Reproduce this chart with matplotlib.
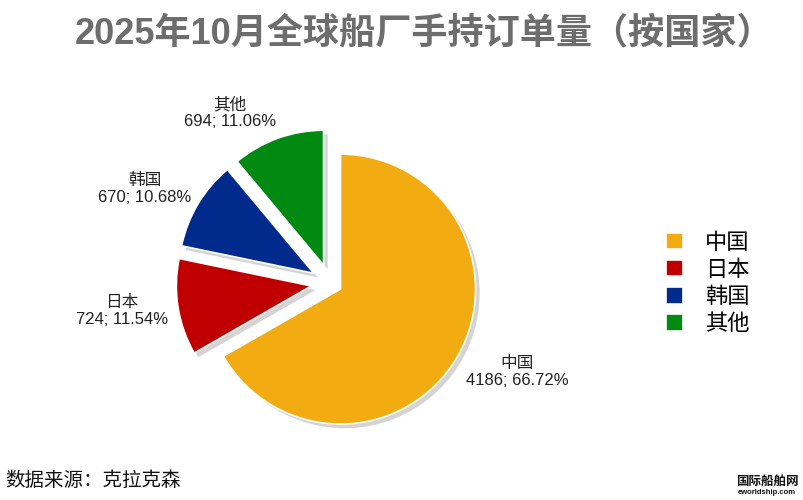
import matplotlib
matplotlib.use("Agg")
import matplotlib.pyplot as plt

# ---- data ----
categories = ["中国", "日本", "韩国", "其他"]
values = [4186, 724, 670, 694]
colors = ["#F2AB10", "#C00000", "#002A8C", "#008A12"]
title = "2025年10月全球船厂手持订单量（按国家）"
source = "数据来源：克拉克森"

# ---- layout ----
explode = [0.09, 0.14, 0.14, 0.14]
label_pos = [(1.385, -0.659), (-1.541, -0.207), (-1.370, 0.696), (-0.741, 1.259)]

W, H = 804, 500
cx, cy, R = 330, 283, 135  # pie centre / radius in pixels

fam = ["Liberation Sans", "Noto Sans CJK SC", "DejaVu Sans"]
plt.rcParams["font.family"] = fam

fig = plt.figure(figsize=(W / 100, H / 100), dpi=100)
ax = fig.add_axes([0, 0, 1, 1])

total = sum(values)
wedges, _ = ax.pie(
    values, colors=colors, explode=explode, startangle=90, counterclock=False,
    radius=1.0,
    wedgeprops=dict(edgecolor="white", linewidth=1.2),
    shadow={"ox": 0.022, "oy": -0.022, "facecolor": "#d4d4d4",
            "edgecolor": "none", "alpha": 1.0},
)
ax.set_aspect("equal")
ax.set_xlim(-cx / R, (W - cx) / R)
ax.set_ylim(-(H - cy) / R, cy / R)
ax.axis("off")

for name, v, (x, y) in zip(categories, values, label_pos):
    ax.text(x, y, f"{name}\n{v}; {100 * v / total:.2f}%", ha="center", va="center",
            fontsize=12, color="#222222", linespacing=1.15)

fig.text(0.527, 1 - 34 / H, title, ha="center", va="center", fontsize=26,
         fontweight="bold", color="#6d6d6d")

leg = fig.legend(wedges, categories, loc="center left",
                 bbox_to_anchor=(646 / W, 1 - 284 / H), frameon=False,
                 fontsize=16, handlelength=0.75, handleheight=0.75,
                 handletextpad=1.0, labelspacing=0.28)

fig.text(5 / W, 1 - 481 / H, source, ha="left", va="center", fontsize=14,
         style="italic", color="#111111")
fig.text(767 / W, 1 - 482 / H, "国际船舶网", ha="center", va="center", fontsize=9,
         fontweight="bold", color="#111111")
fig.text(767 / W, 1 - 493 / H, "eworldship.com", ha="center", va="center",
         fontsize=5.5, fontweight="bold", color="#111111")

fig.savefig("out.png", dpi=100)
